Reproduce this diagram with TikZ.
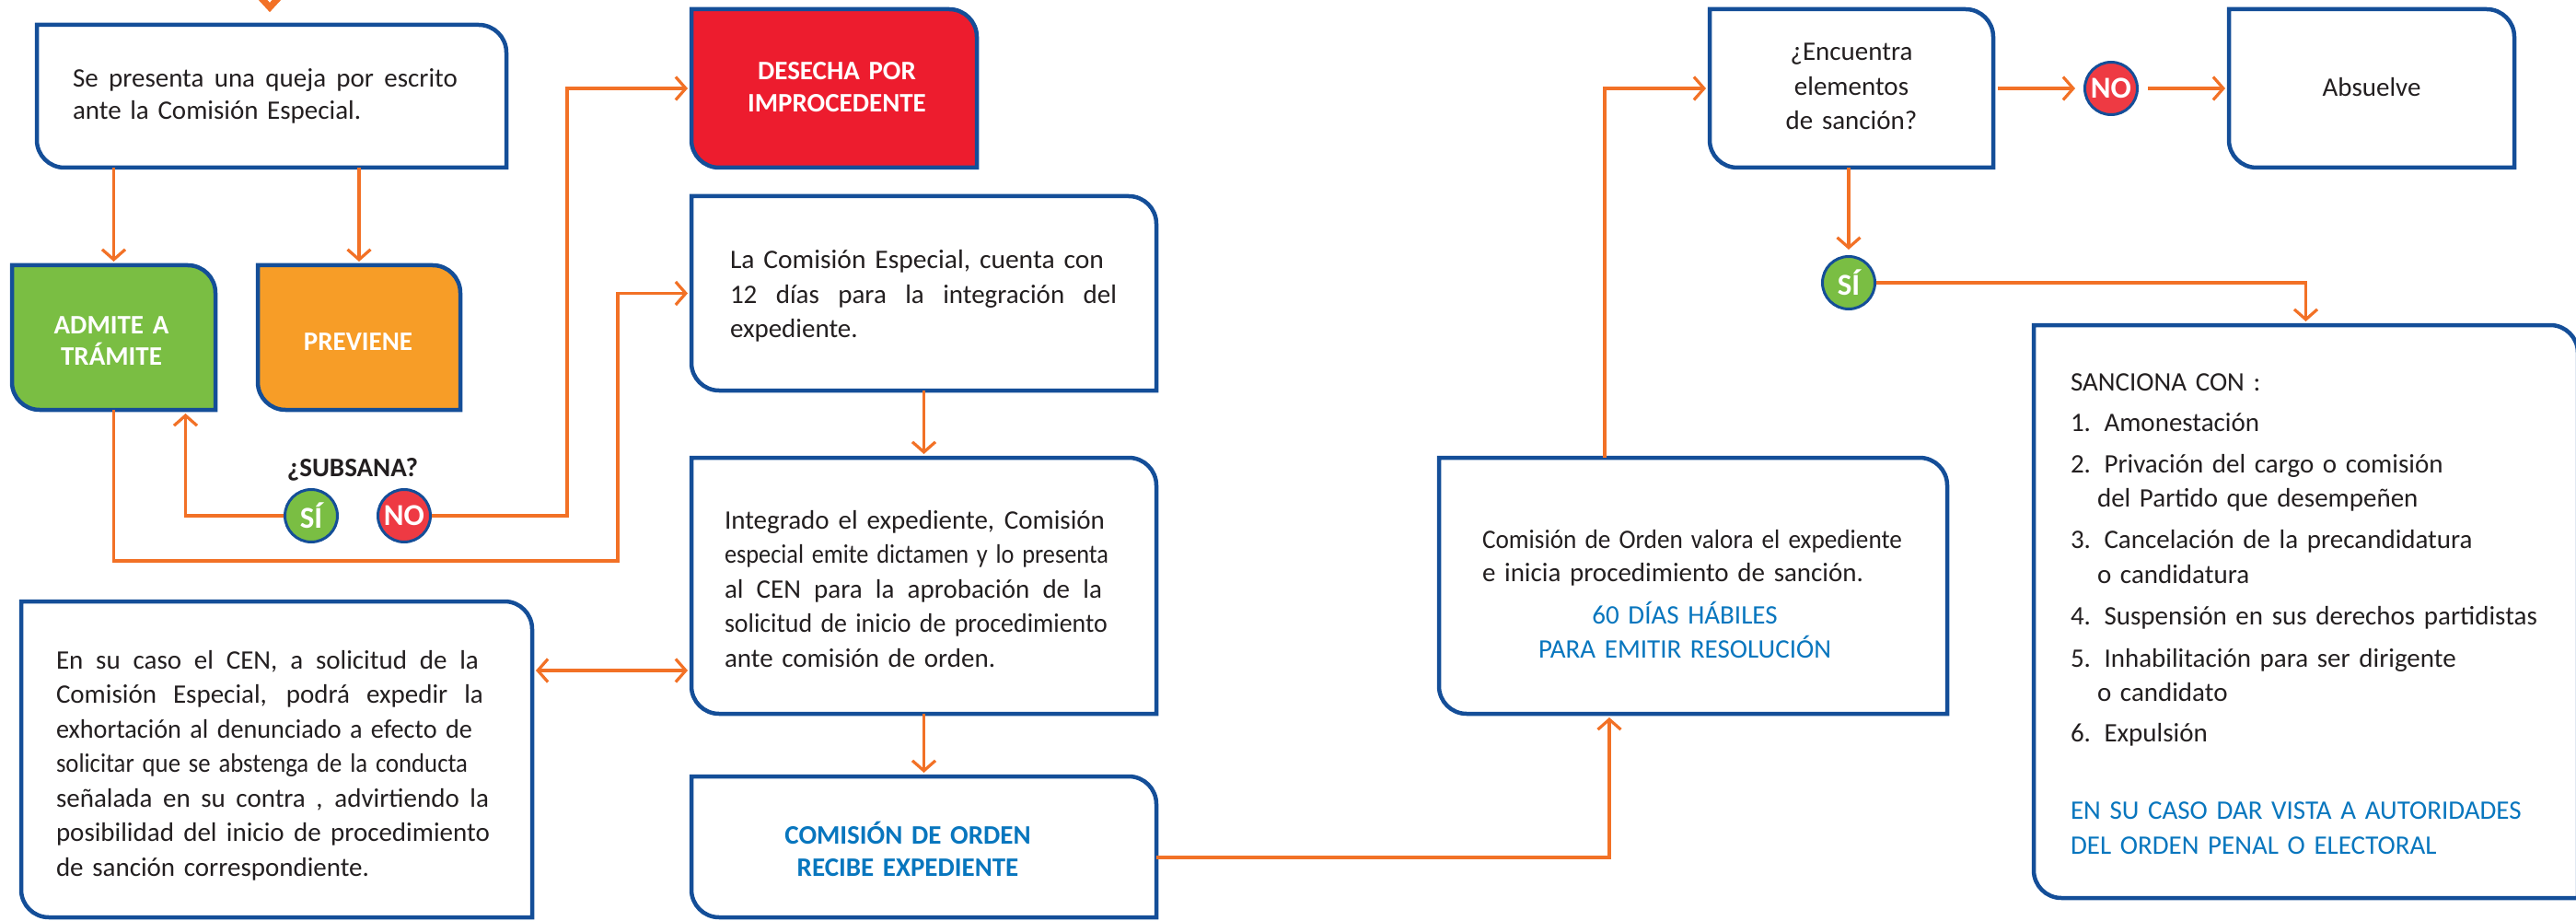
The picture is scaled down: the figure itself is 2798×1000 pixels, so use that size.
\documentclass[tikz,border=0pt]{standalone}
\usepackage{fontspec}
\usepackage{graphicx}
\setmainfont{Carlito}
\usetikzlibrary{arrows.meta,fit}
\definecolor{bblue}{RGB}{20,78,152}
\definecolor{lor}{RGB}{242,113,38}
\definecolor{fgreen}{RGB}{122,190,67}
\definecolor{forange}{RGB}{247,157,39}
\definecolor{fred}{RGB}{237,28,46}
\definecolor{cred}{RGB}{238,58,67}
\definecolor{tblue}{RGB}{8,118,190}
\definecolor{tdark}{RGB}{35,31,32}
\hyphenpenalty=10000
\newcommand\rad{30pt}
% stretched line (spaces fill the width)
\newcommand\jl[2]{\leavevmode\hbox to #1pt{\spaceskip=.226em plus 1fil\relax #2}}
% condensed line (scaled to the width)
\newcommand\cl[2]{\leavevmode\resizebox{#1pt}{\height}{#2}}
\newcommand\mkbox[6]{%
  \path (#2,-#3) coordinate (#1-nw) (#4,-#5) coordinate (#1-se);
  \node[boxnode, fit=(#1-nw)(#1-se)] (#1) {};
  \draw[boxline, fill=#6] (#1.north west) -- ([xshift=-\rad]#1.north east)
    arc[start angle=90,end angle=0,radius=\rad] -- (#1.south east)
    -- ([xshift=\rad]#1.south west) arc[start angle=270,end angle=180,radius=\rad] -- cycle;}
\tikzset{
  boxnode/.style={inner sep=0pt, outer sep=0pt, draw=none},
  boxline/.style={draw=bblue, line width=4.5pt},
  conn/.style={draw=lor, line width=3.2pt, shorten >=4pt,
    -{Straight Barb[length=11pt,width=25pt]}},
  dconn/.style={draw=lor, line width=3.2pt, shorten >=4pt, shorten <=4pt,
    {Straight Barb[length=11pt,width=25pt]}-{Straight Barb[length=11pt,width=25pt]}},
  txt/.style={inner sep=0pt, outer sep=0pt, anchor=base west, align=left, text=tdark,
    font=\fontsize{29}{37.5}\selectfont},
  ctxt/.style={inner sep=0pt, outer sep=0pt, anchor=base, align=center, text=tdark,
    font=\fontsize{29}{37.5}\selectfont},
  btxt/.style={ctxt, font=\fontsize{29}{35}\selectfont\bfseries},
  circ/.style={circle, draw=bblue, line width=3pt, minimum size=57pt, inner sep=0pt,
    text=white, font=\fontsize{33}{33}\selectfont\bfseries}
}
\begin{document}
\begin{tikzpicture}[x=1pt,y=1pt]
\useasboundingbox (0,0) rectangle (2798,-1000);
% boxes
\mkbox{b1}{40}{27}{550}{182}{white}
\mkbox{admite}{13}{288}{234}{445}{fgreen}
\mkbox{prev}{280}{288}{500}{445}{forange}
\mkbox{desecha}{751}{10}{1061}{182}{fred}
\mkbox{lacom}{751}{213}{1256}{424}{white}
\mkbox{integ}{751}{497}{1256}{775}{white}
\mkbox{comord}{751}{843}{1256}{996}{white}
\mkbox{cen}{23}{653}{578}{996}{white}
\mkbox{valora}{1563}{497}{2115}{775}{white}
\mkbox{encuentra}{1857}{10}{2165}{182}{white}
\mkbox{absuelve}{2421}{10}{2731}{182}{white}
\mkbox{sanciona}{2209}{353}{2800}{975}{white}
% circles
\node[circ, fill=fgreen] (si1) at (338,-560) {SÍ};
\node[circ, fill=cred] (no1) at (439,-560) {NO};
\node[circ, fill=cred] (no2) at (2293,-96) {NO};
\node[circ, fill=fgreen] (si2) at (2008,-307) {SÍ};
% texts
\node[txt, text width=480pt, font=\fontsize{29}{35}\selectfont] (t-b1) at (79,-95)
  {\jl{418}{Se presenta una queja por escrito}\\ante la Comisión Especial.};
\node[btxt, text=white, text width=200pt] (t-admite) at (121,-362) {ADMITE A\\TRÁMITE};
\node[btxt, text=white, text width=200pt] (t-prev) at (389,-380) {PREVIENE};
\node[btxt, text=white, text width=300pt] (t-desecha) at (909,-87) {DESECHA POR\\IMPROCEDENTE};
\node[btxt, text width=200pt] (t-subsana) at (383,-517) {¿SUBSANA?};
\node[txt, text width=520pt] (t-lacom) at (793,-292)
  {\cl{406}{La Comisión Especial, cuenta con}\\\jl{420}{12 días para la integración del}\\expediente.};
\node[txt, text width=520pt] (t-integ) at (787,-574)
  {\jl{413}{Integrado el expediente, Comisión}\\\cl{417}{especial emite dictamen y lo presenta}\\\jl{410}{al CEN para la aprobación de la}\\\cl{416}{solicitud de inicio de procedimiento}\\ante comisión de orden.};
\node[btxt, text=tblue, text width=400pt] (t-comord) at (986,-916)
  {COMISIÓN DE ORDEN\\RECIBE EXPEDIENTE};
\node[txt, text width=520pt] (t-cen) at (61,-726)
  {\jl{459}{En su caso el CEN, a solicitud de la}\\\jl{464}{Comisión Especial, podrá expedir la}\\\cl{452}{exhortación al denunciado a efecto de}\\\cl{447}{solicitar que se abstenga de la conducta}\\\jl{470}{señalada en su contra , advirtiendo la}\\\jl{471}{posibilidad del inicio de procedimiento}\\de sanción correspondiente.};
\node[txt, text width=520pt, font=\fontsize{29}{36}\selectfont] (t-valora) at (1610,-595)
  {\cl{456}{Comisión de Orden valora el expediente}\\e inicia procedimiento de sanción.};
\node[ctxt, text=tblue, text width=480pt, font=\fontsize{29}{37}\selectfont] (t-dias) at (1830,-677)
  {60 DÍAS HÁBILES\\PARA EMITIR RESOLUCIÓN};
\node[ctxt, text width=300pt] (t-enc) at (2011,-66) {¿Encuentra\\elementos\\de sanción?};
\node[ctxt, text width=300pt] (t-abs) at (2576,-105) {Absuelve};
\node[txt, text width=560pt, font=\fontsize{29}{37}\selectfont] (t-sanc) at (2249,-424)
  {SANCIONA CON :\\[7pt]1. Amonestación\\[8pt]2. Privación del cargo o comisión\\\hspace*{29pt}del Partido que desempeñen\\[9pt]3. Cancelación de la precandidatura\\\hspace*{29pt}o candidatura\\[9pt]4. Suspensión en sus derechos partidistas\\[8pt]5. Inhabilitación para ser dirigente\\\hspace*{29pt}o candidato\\[7pt]6. Expulsión\\[48pt]\textcolor{tblue}{EN SU CASO DAR VISTA A AUTORIDADES}\\\textcolor{tblue}{DEL ORDEN PENAL O ELECTORAL}};
% top incoming chevron
\coordinate (topin) at (293,-8);
\draw[lor, line width=7pt] ([shift={(-24,26)}]topin) -- (topin) -- ([shift={(24,26)}]topin);
% connectors
\coordinate (loopR) at (671,-609);
\coordinate (dA) at (0,-728);
\draw[conn] (b1.south -| admite.north) -- (admite.north);
\draw[conn] (b1.south -| prev.north) -- (prev.north);
\draw[conn] (admite.south) |- (loopR) |- (lacom.west);
\draw[conn] (si1.west) -| ([xshift=78pt]admite.south);
\draw[conn] (no1.east) -| ([xshift=-135pt]desecha.west) -- (desecha.west);
\draw[conn] (lacom.south) -- (integ.north);
\draw[conn] (integ.south) -- (comord.north);
\draw[dconn] (cen.east |- dA) -- (integ.west |- dA);
\draw[conn] ([yshift=-11.5pt]comord.east) -| ([xshift=-91pt]valora.south);
\draw[conn] ([xshift=-96pt]valora.north) |- (encuentra.west);
\draw[conn, shorten <=5pt, shorten >=9pt] (encuentra.east) -- (no2.west);
\draw[conn, shorten <=10pt] (no2.east) -- (absuelve.west);
\draw[conn, shorten >=6pt] (si2.north |- encuentra.south) -- (si2.north);
\draw[conn] (si2.east) -| (sanciona.north);
\end{tikzpicture}
\end{document}
